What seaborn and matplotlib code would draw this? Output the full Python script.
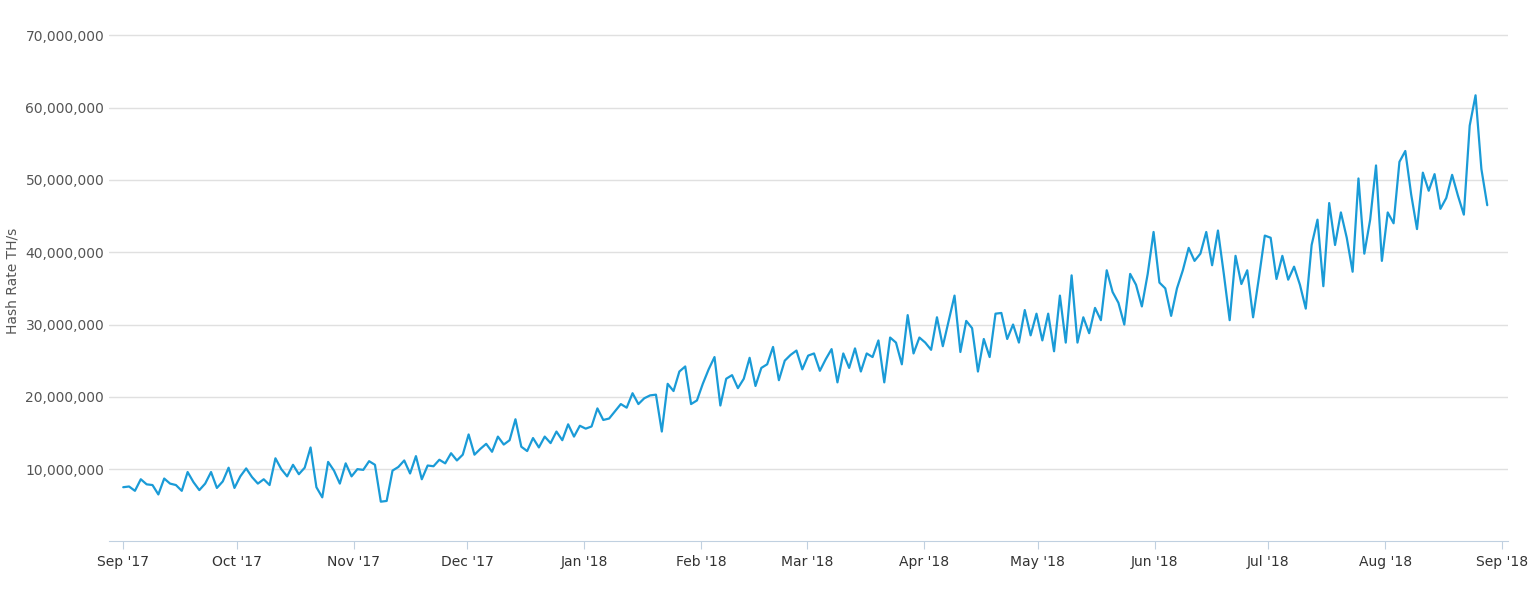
import matplotlib
matplotlib.use("Agg")
import matplotlib.pyplot as plt
import matplotlib.dates as mdates
import matplotlib.ticker as mticker
import seaborn as sns
import pandas as pd
import numpy as np

hash_rate_m = [
7.5,7.6,7.0,8.6,7.9,7.8,6.5,8.7,8.0,7.8,7.0,9.6,8.2,7.1,8.0,
9.6,7.4,8.3,10.2,7.4,9.0,10.1,8.9,8.0,8.6,7.8,11.5,10.0,9.0,10.6,9.3,
10.2,13.0,7.5,6.1,11.0,9.8,8.0,10.8,9.0,10.0,9.9,11.1,10.6,5.5,5.6,
9.8,10.3,11.2,9.4,11.8,8.6,10.5,10.4,11.3,10.8,12.2,11.2,12.0,14.8,12.0,
12.8,13.5,12.4,14.5,13.4,14.0,16.9,13.1,12.5,14.3,13.0,14.5,13.6,15.2,14.0,
16.2,14.5,16.0,15.6,15.9,18.4,16.8,17.0,18.0,19.0,18.5,20.5,19.0,19.8,20.2,20.3,
15.2,21.8,20.8,23.5,24.2,19.0,19.5,21.8,23.8,25.5,18.8,22.5,23.0,21.2,22.5,
25.4,21.5,24.0,24.5,26.9,22.3,25.0,25.8,26.4,23.8,25.7,26.0,23.6,25.2,26.6,
22.0,26.0,24.0,26.7,23.5,26.0,25.5,27.8,22.0,28.2,27.5,24.5,31.3,26.0,28.2,
27.5,26.5,31.0,27.0,30.5,34.0,26.2,30.5,29.5,23.5,28.0,25.5,31.5,31.6,28.0,30.0,
27.5,32.0,28.5,31.5,27.8,31.5,26.3,34.0,27.5,36.8,27.5,31.0,28.8,32.3,30.6,
37.5,34.5,33.0,30.0,37.0,35.5,32.5,37.0,42.8,35.8,35.0,31.2,35.0,37.5,40.6,38.8,
39.8,42.8,38.2,43.0,37.0,30.6,39.5,35.6,37.5,31.0,36.5,42.3,42.0,36.3,39.5,36.2,
38.0,35.5,32.2,41.0,44.5,35.3,46.8,41.0,45.5,42.0,37.3,50.2,39.8,44.5,52.0,38.8,
45.5,44.0,52.5,54.0,48.0,43.2,51.0,48.5,50.8,46.0,47.5,50.7,47.8,45.2,57.5,61.7,51.5,46.5,
]
dates = pd.date_range("2017-09-01", "2018-08-28", periods=len(hash_rate_m))
df = pd.DataFrame({"date": dates, "rate": np.array(hash_rate_m) * 1e6})

sns.set_style("white")
fig, ax = plt.subplots(figsize=(15.36, 5.95), dpi=100)
fig.subplots_adjust(left=0.071, right=0.982, top=0.965, bottom=0.09)
sns.lineplot(data=df, x="date", y="rate", ax=ax, color="#1a9bd7", linewidth=1.6)

ax.set_ylim(0, 72e6)
ax.set_yticks(np.arange(10e6, 71e6, 10e6))
ax.yaxis.set_major_formatter(mticker.FuncFormatter(lambda v, p: f"{int(v):,}"))
ax.set_xlim(pd.Timestamp("2017-08-28 06:00"), pd.Timestamp("2018-09-02 14:00"))
ax.xaxis.set_major_locator(mdates.MonthLocator())
ax.xaxis.set_major_formatter(mdates.DateFormatter("%b '%y"))
ax.grid(axis="y", color="#e0e0e0", linewidth=1)
for s in ["top", "right", "left"]:
    ax.spines[s].set_visible(False)
ax.spines["bottom"].set_color("#c0d0e0")
ax.tick_params(axis="x", colors="#333333", labelsize=10, length=6, color="#c0d0e0", direction="out", bottom=True)
ax.tick_params(axis="y", colors="#555555", labelsize=10, length=0)
ax.set_xlabel("")
ax.set_ylabel("Hash Rate TH/s", color="#555555", fontsize=10)
fig.savefig("out.png", dpi=100)
